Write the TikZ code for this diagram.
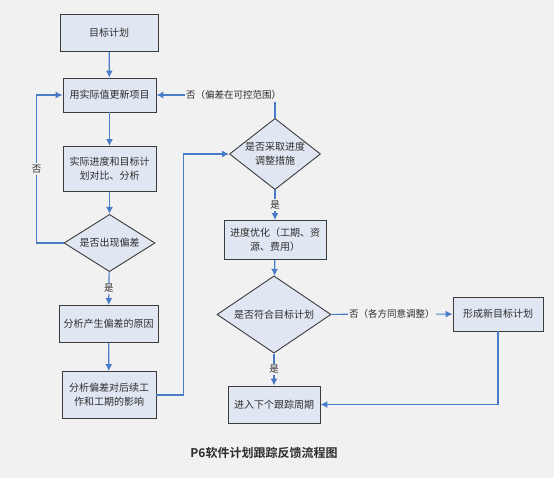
\documentclass[tikz,border=0pt]{standalone}
\usepackage{fontspec}
\setmainfont{Noto Sans CJK SC}[BoldFont={Noto Sans CJK SC Bold}]
\usepackage{tikz}
\usetikzlibrary{arrows.meta,positioning,shapes,calc}
\definecolor{linkblue}{RGB}{72,124,200}
\definecolor{boxfill}{RGB}{224,231,242}
\definecolor{bggray}{RGB}{241,241,241}
\definecolor{edgegray}{RGB}{60,60,60}
\definecolor{txtgray}{RGB}{45,45,45}

\begin{document}
\begin{tikzpicture}[x=1pt,y=-1pt,
        box/.style={draw=edgegray, fill=boxfill, line width=0.9pt, align=center, inner sep=2pt, text=txtgray, font=\fontsize{10}{14}\selectfont},
        decision/.style={diamond, draw=edgegray, fill=boxfill, line width=0.9pt, align=center, inner sep=-3pt, text=txtgray, font=\fontsize{10}{14}\selectfont},
        flow/.style={draw=linkblue, line width=1.2pt, -{Latex[length=7pt,width=7pt]}},
        lbl/.style={fill=bggray, inner sep=1.5pt, text=txtgray, font=\fontsize{9.5}{12}\selectfont}]
        \fill[bggray] (0,0) rectangle (554,478);
        \useasboundingbox (0,0) rectangle (554,478);
        % left column
        \node[box, minimum width=98pt, minimum height=37pt] (goal) at (109,33) {目标计划};
        \node[box, minimum width=93pt, minimum height=34pt] (update) at (109.5,95) {用实际值更新项目};
        \node[box, minimum width=93pt, minimum height=45pt] (compare) at (109.5,169) {实际进度和目标计\\划对比、分析};
        \node[decision, minimum width=91pt, minimum height=45pt] (dev) at (109.5,243) {是否出现偏差};
        \node[box, minimum width=99pt, minimum height=37pt] (cause) at (108.5,324) {分析产生偏差的原因};
        \node[box, minimum width=94pt, minimum height=47pt] (impact) at (109,395) {分析偏差对后续工\\作和工期的影响};
        % right column
        \node[decision, minimum width=91pt, minimum height=54pt] (adjust) at (275,154) {是否采取进度\\调整措施};
        \node[box, minimum width=102pt, minimum height=39pt] (opt) at (275,240) {进度优化（工期、资\\源、费用）};
        \node[decision, minimum width=114pt, minimum height=47pt] (check) at (274,314.5) {是否符合目标计划};
        \node[box, minimum width=90pt, minimum height=34pt] (newplan) at (498,314) {形成新目标计划};
        \node[box, minimum width=92pt, minimum height=37pt] (next) at (274,404.5) {进入下个跟踪周期};
        \node[text=txtgray, font=\fontsize{12}{14}\selectfont\bfseries] (title) at (264,453) {P6软件计划跟踪反馈流程图};

        \draw[flow] (goal) -- (update);
        \draw[flow] (update) -- (compare);
        \draw[flow] (compare) -- (dev);
        \draw[flow] (dev.west) -- ++(-27,0) |- node[lbl, pos=0.25] {否} (update.west);
        \draw[flow] (dev) -- node[lbl] {是} (cause);
        \draw[flow] (cause) -- (impact);
        \draw[flow] (impact.east) -- ++(27,0) |- (adjust.west);
        \draw[flow] (adjust.north) |- node[lbl, pos=0.675, inner ysep=2.5pt] {否（偏差在可控范围）} (update.east);
        \draw[flow] (adjust) -- node[lbl] {是} (opt);
        \draw[flow] (opt) -- (check);
        \draw[flow] (check) -- node[lbl] {否（各方同意调整）} (newplan);
        \draw[flow] (check) -- node[lbl] {是} (next);
        \draw[flow] (newplan.south) |- (next.east);
\end{tikzpicture}
\end{document}
